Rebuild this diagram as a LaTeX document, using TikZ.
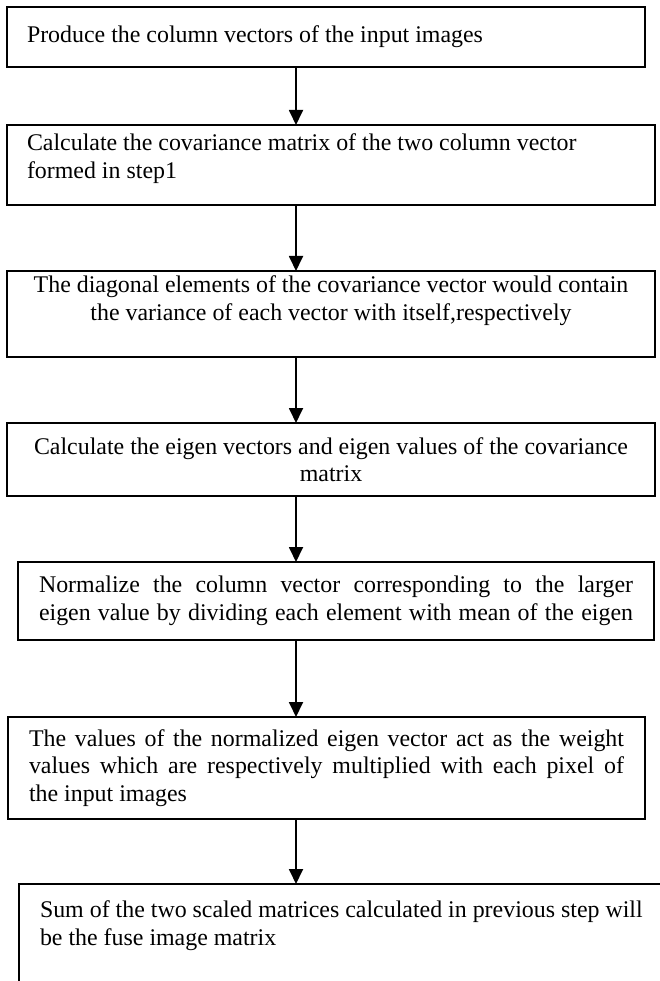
\documentclass[tikz,border=0pt]{standalone}
\usepackage{fontspec}
\setmainfont{Liberation Serif}
\usetikzlibrary{arrows.meta,positioning}

\begin{document}
\begin{tikzpicture}[
    x=1pt, y=-1pt,
    stepbox/.style={rectangle, draw, line width=1.4pt, inner xsep=20pt, outer sep=0pt,
        font=\fontsize{23.9}{27.6}\selectfont, anchor=north west},
    flow/.style={-{Triangle[width=14pt,length=15pt]}, line width=1.8pt}
]
\useasboundingbox (0,0) rectangle (660,981);
\clip (0,0) rectangle (660,981);

\node[stepbox, text width=598pt, align=flush left, minimum height=60pt] (columns) at (7,7) {
    Produce the column vectors of the input images
};

\node[stepbox, text width=608pt, align=flush left, inner ysep=9.5pt, text height=16pt, text depth=45pt,
      below=58pt of columns.south west, anchor=north west] (covariance) {
    Calculate the covariance matrix of the two column vector\\
    formed in step1
};

\node[stepbox, text width=608pt, align=flush center, inner ysep=5.5pt, text height=16pt, text depth=59pt,
      below=66pt of covariance.south west, anchor=north west] (diagonal) {
    The diagonal elements of the covariance vector would contain\\
    the variance of each vector with itself,respectively
};

\node[stepbox, text width=608pt, align=flush center, minimum height=73pt,
      below=66pt of diagonal.south west, anchor=north west] (eigen) {
    Calculate the eigen vectors and eigen values of the covariance\\
    matrix
};

\node[stepbox, text width=594pt, inner xsep=21pt, align=justify, minimum height=78pt,
      below=66pt of eigen.south west, anchor=north west, xshift=11pt] (normalize) {
    Normalize the column vector corresponding to the larger\linebreak
    \makebox[\linewidth][s]{eigen value by dividing each element with mean of the eigen}
};

\node[stepbox, text width=595pt, inner xsep=21pt, align=justify, minimum height=102pt,
      below=77pt of normalize.south west, anchor=north west, xshift=-10pt] (weights) {
    The values of the normalized eigen vector act as the weight\linebreak
    values which are respectively multiplied with each pixel of\linebreak
    the input images
};

\node[stepbox, text width=640pt, inner xsep=21pt, align=flush left, inner ysep=17.5pt, text height=16pt, text depth=100pt,
      below=65pt of weights.south west, anchor=north west, xshift=11pt] (fusion) {
    Sum of the two scaled matrices calculated in previous step will\\
    be the fuse image matrix
};

% Arrows
\coordinate (spine) at (296,0);
\draw[flow] (columns.south -| spine) -- (covariance.north -| spine);
\draw[flow] (covariance.south -| spine) -- (diagonal.north -| spine);
\draw[flow] (diagonal.south -| spine) -- (eigen.north -| spine);
\draw[flow] (eigen.south -| spine) -- (normalize.north -| spine);
\draw[flow] (normalize.south -| spine) -- (weights.north -| spine);
\draw[flow] (weights.south -| spine) -- (fusion.north -| spine);

\end{tikzpicture}
\end{document}
